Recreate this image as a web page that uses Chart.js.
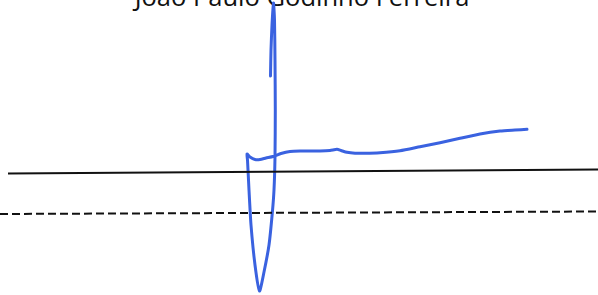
<!DOCTYPE html>
<html>
<head>
<meta charset="utf-8">
<script src="https://cdn.jsdelivr.net/npm/chart.js@4"></script>
<style>
  html, body { margin: 0; padding: 0; background: #fff; }
  #wrap { position: relative; width: 598px; height: 295px; overflow: hidden; }
  #name {
    position: absolute; left: 0; width: 604px; top: -21px;
    text-align: center; font: 25.5px "Open Sans", sans-serif; color: #111;
    white-space: nowrap;
  }
  canvas { position: absolute; left: 0; top: 0; }
</style>
</head>
<body>
<div id="wrap">
  <div id="name">João Paulo Godinho Ferreira</div>
  <canvas id="sig" width="598" height="295"></canvas>
</div>
<script>
// signature stroke, page coordinates (x right, y down)
const sigX = [270.5, 271, 272, 273.5, 274.5, 275, 275.3, 275, 274, 272.3, 269, 264, 259.5,
              255, 251, 249, 247.5, 247, 250, 255, 260, 266, 273, 281, 290, 300, 310, 320,
              330, 337, 341, 347, 355, 365, 380, 400, 420, 440, 460, 480, 500, 515, 527];
const sigY = [76, 50, 25, 3, 20, 60, 110, 157, 190, 213, 245, 272, 291,
              265, 225, 190, 160, 154, 157, 159.5, 159.5, 158, 156.5, 153.5, 151.5, 151, 151, 151,
              150.5, 149.3, 150.5, 152.3, 153.2, 153.3, 152.7, 150.7, 146.7, 142.7, 138.3, 134, 131, 130, 129.3];

// signing line (solid) and cut line (dashed)
const solidX = [8, 598];
const solidY = [173.5, 169.5];
const dashX = [0, 598];
const dashY = [214, 211.5];

const pts = (xs, ys) => xs.map((x, i) => ({ x: x, y: ys[i] }));

new Chart(document.getElementById('sig'), {
    type: 'scatter',
    data: {
        datasets: [
            {
                data: pts(solidX, solidY),
                showLine: true,
                borderColor: '#111',
                borderWidth: 2,
                pointRadius: 0,
            },
            {
                data: pts(dashX, dashY),
                showLine: true,
                borderColor: '#111',
                borderWidth: 2,
                borderDash: [8, 4],
                pointRadius: 0,
            },
            {
                data: pts(sigX, sigY),
                showLine: true,
                borderColor: '#3a62e0',
                borderWidth: 3,
                tension: 0.2,
                borderCapStyle: 'round',
                borderJoinStyle: 'round',
                pointRadius: 0,
            },
        ]
    },
    options: {
        responsive: false,
        animation: false,
        layout: { padding: 0 },
        plugins: { legend: { display: false }, tooltip: { enabled: false } },
        scales: {
            x: { type: 'linear', min: 0, max: 598, display: false },
            y: { type: 'linear', min: 0, max: 295, reverse: true, display: false },
        },
    },
});
</script>
</body>
</html>
